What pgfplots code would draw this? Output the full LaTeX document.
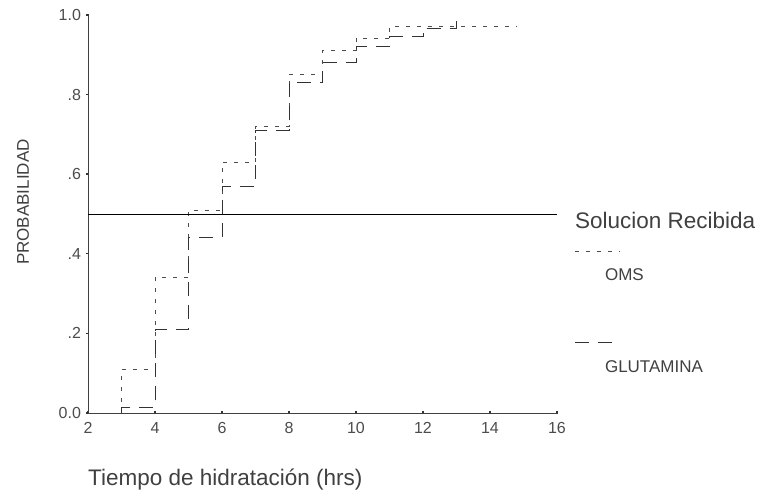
\documentclass[border=0pt]{standalone}
\usepackage{pgfplots}
\pgfplotsset{compat=1.18}
\usepackage{fontspec}
\setmainfont{Liberation Sans}
\begin{document}
\begin{tikzpicture}
\path[use as bounding box] (0,0) rectangle (769pt,502pt);
\begin{axis}[
  at={(88pt,89pt)}, anchor=south west,
  scale only axis, width=469pt, height=398pt,
  xmin=2, xmax=16, ymin=0, ymax=1,
  axis x line=bottom, axis y line=left,
  axis line style={-, line width=0.8pt, black!75},
  xtick={2,4,...,16},
  ytick={0,0.2,0.4,0.6,0.8,1},
  yticklabels={0.0,.2,.4,.6,.8,1.0},
  tick align=center, major tick length=3pt,
  tick style={line width=1.4pt, black!80},
  ticklabel style={font=\fontsize{16}{18}\selectfont, text=black!70},
  xticklabel style={yshift=-4pt},
  yticklabel style={xshift=-2pt},
  /pgf/number format/assume math mode=true,
  clip=false,
  xlabel={Tiempo de hidratación (hrs)},
  xlabel style={at={(axis description cs:0,0)}, anchor=west, yshift=-67pt, inner sep=0pt,
    font=\fontsize{22.5}{26}\selectfont, text=black!75},
  ylabel={PROBABILIDAD},
  ylabel style={at={(axis description cs:0,0.53)}, anchor=center, yshift=65pt,
    font=\fontsize{17}{20}\selectfont, text=black!75},
]
% OMS
\addplot[black!70, line width=0.9pt, dash pattern=on 4pt off 7pt] coordinates {
  (3,0) (3,0.11) (4,0.11) (4,0.34) (5,0.34) (5,0.51) (6,0.51) (6,0.63) (7,0.63)
  (7,0.72) (8,0.72) (8,0.85) (9,0.85) (9,0.91) (10,0.91) (10,0.94) (11,0.94)
  (11,0.97) (14.8,0.97)};
% GLUTAMINA
\addplot[black!80, line width=0.9pt, dash pattern=on 14pt off 9pt] coordinates {
  (3,0) (3,0.013) (4,0.013) (4,0.21) (5,0.21) (5,0.44) (6,0.44) (6,0.57) (7,0.57)
  (7,0.71) (8,0.71) (8,0.83) (9,0.83) (9,0.88) (10,0.88) (10,0.92) (11,0.92)
  (11,0.945) (12,0.945) (12,0.967) (13,0.967) (13,1.0)};
% median line
\addplot[black, line width=0.8pt] coordinates {(2,0.5) (16,0.5)};
% legend
\node[anchor=west, inner sep=0pt, font=\fontsize{22.5}{26}\selectfont, text=black!75]
  at (rel axis cs:1.038,0.485) {Solucion Recibida};
\draw[black!70, line width=0.9pt, dash pattern=on 4pt off 7pt]
  (rel axis cs:1.038,0.405) -- (rel axis cs:1.132,0.405);
\node[anchor=west, inner sep=0pt, font=\fontsize{17}{20}\selectfont, text=black!75]
  at (rel axis cs:1.102,0.347) {OMS};
\draw[black!80, line width=0.9pt, dash pattern=on 14pt off 9pt]
  (rel axis cs:1.038,0.178) -- (rel axis cs:1.134,0.178);
\node[anchor=west, inner sep=0pt, font=\fontsize{17}{20}\selectfont, text=black!75]
  at (rel axis cs:1.102,0.116) {GLUTAMINA};
\end{axis}
\end{tikzpicture}
\end{document}
